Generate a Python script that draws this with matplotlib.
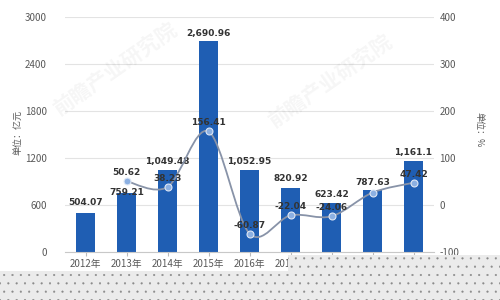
import matplotlib
matplotlib.use("Agg")
import matplotlib.pyplot as plt
from matplotlib.path import Path
from matplotlib.patches import PathPatch, Polygon
import numpy as np

plt.rcParams['font.family'] = ['Noto Sans CJK SC', 'DejaVu Sans']

years = ["2012年", "2013年", "2014年", "2015年", "2016年", "2017年", "2018年", "2019年", "2020年"]
amount = [504.07, 759.21, 1049.48, 2690.96, 1052.95, 820.92, 623.42, 787.63, 1161.1]
amount_labels = ["504.07", "759.21", "1,049.48", "2,690.96", "1,052.95", "820.92", "623.42", "787.63", "1,161.1"]
growth = [None, 50.62, 38.23, 156.41, -60.87, -22.04, -24.06, 26.34, 47.42]
growth_labels = [None, "50.62", "38.23", "156.41", "-60.87", "-22.04", "-24.06", None, "47.42"]
left_ticks = [0, 600, 1200, 1800, 2400, 3000]
right_ticks = [-100, 0, 100, 200, 300, 400]

bar_color = "#1f5eb3"
line_color = "#8893a8"
marker_color = "#8cb0e2"
text_color = "#333333"
tick_color = "#595959"

fig = plt.figure(figsize=(5, 3), dpi=100)
ax = fig.add_axes([0.13, 0.16, 0.738, 0.7833])
ax2 = ax.twinx()

x = np.arange(len(years))
ax.bar(x, amount, width=0.46, color=bar_color, zorder=2)
ax.set_xlim(-0.5, len(years) - 0.5)
ax.set_ylim(left_ticks[0], left_ticks[-1])
ax.set_yticks(left_ticks)
ax.set_yticklabels([str(t) for t in left_ticks], fontsize=7, color=tick_color)
ax.set_xticks(x)
ax.set_xticklabels(years, fontsize=7, color=tick_color)
ax.tick_params(axis='y', length=0, pad=13)
ax.tick_params(axis='x', length=3, color="#bbbbbb", pad=2)
ax.grid(axis='y', color="#e3e3e3", linewidth=0.8, zorder=0)
ax.set_axisbelow(True)
for s in ["top", "right", "left"]:
    ax.spines[s].set_visible(False)
ax.spines["bottom"].set_color("#c8c8c8")

ax2.set_ylim(right_ticks[0], right_ticks[-1])
ax2.set_yticks(right_ticks)
ax2.set_yticklabels([str(t) for t in right_ticks], fontsize=7, color=tick_color)
ax2.tick_params(axis='y', length=0, pad=4)
for s in ["top", "right", "left", "bottom"]:
    ax2.spines[s].set_visible(False)

# smooth line through growth points (Catmull-Rom style Bezier)
pts = [(xi, g) for xi, g in zip(x, growth) if g is not None]
pts = np.array(pts, dtype=float)
t = 0.16
verts = [tuple(pts[0])]
codes = [Path.MOVETO]
n = len(pts)
for i in range(n - 1):
    p0 = pts[i - 1] if i > 0 else pts[i]
    p1 = pts[i]
    p2 = pts[i + 1]
    p3 = pts[i + 2] if i + 2 < n else pts[i + 1]
    c1 = p1 + (p2 - p0) * t
    c2 = p2 - (p3 - p1) * t
    verts += [tuple(c1), tuple(c2), tuple(p2)]
    codes += [Path.CURVE4] * 3
ax2.add_patch(PathPatch(Path(verts, codes), facecolor="none", edgecolor=line_color, linewidth=1.3, zorder=3))
ax2.plot(pts[:, 0], pts[:, 1], linestyle="none", marker="o", markersize=5,
         markerfacecolor=marker_color, markeredgecolor="#dfe8f5", markeredgewidth=0.8, zorder=4)

# bar labels
bar_offsets = [10, 0, 8, 8, 8, 9, 9, 8, 9]
for xi, v, lab, off in zip(x, amount, amount_labels, bar_offsets):
    ax.annotate(lab, (xi, v), xytext=(0, off * 0.72), textcoords="offset points",
                ha="center", va="center", fontsize=6.5, fontweight="bold", color=text_color, zorder=5,
                family=['DejaVu Sans'])
for xi, g, lab in zip(x, growth, growth_labels):
    if lab is None:
        continue
    ax2.annotate(lab, (xi, g), xytext=(0, 8.5 * 0.72), textcoords="offset points",
                 ha="center", va="center", fontsize=6.5, fontweight="bold", color=text_color, zorder=5,
                 family=['DejaVu Sans'])

fig.text(0.036, 0.557, "单位：亿元", rotation=90, fontsize=6.5, color=tick_color, ha="center", va="center")
fig.text(0.958, 0.567, "单位：%", rotation=-90, fontsize=6.5, color=tick_color, ha="center", va="center")

# faint watermarks
for (wx, wy) in [(0.23, 0.77), (0.66, 0.73)]:
    fig.text(wx, wy, "前瞻产业研究院", rotation=35, fontsize=15, color="#000000", alpha=0.04,
             ha="center", va="center", fontweight="bold")

# bottom screen overlay
poly = [(0, 0), (1, 0), (1, 1 - 255 / 300), (0.576, 1 - 255 / 300), (0.576, 1 - 271 / 300), (0, 1 - 271 / 300)]
plt.rcParams['hatch.linewidth'] = 0.3
patch = Polygon(poly, closed=True, transform=fig.transFigure, facecolor="#ebebeb",
                edgecolor="#8a8a8a", hatch="..", linewidth=0, zorder=10)
fig.patches.append(patch)

fig.savefig("out.png", dpi=100)
